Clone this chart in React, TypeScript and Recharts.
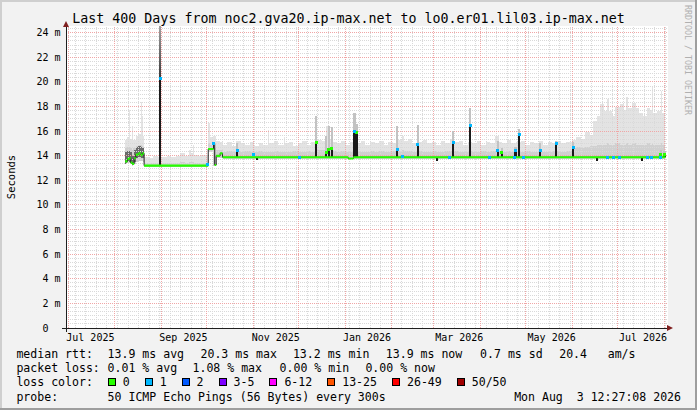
import React from "react";
import { Area, CartesianGrid, ComposedChart, Line, ReferenceLine, Scatter, XAxis, YAxis } from "recharts";

// x values are days since the start of the 400 day window (Jun 29 2025 12:27)
const xTickDays = [16.2, 78, 139.4, 200, 261.3, 322.7, 383.4];
const xTickLabels = ["Jul 2025", "Sep 2025", "Nov 2025", "Jan 2026", "Mar 2026", "May 2026", "Jul 2026"];
const monthStarts = [1.48, 32.48, 63.48, 93.48, 124.48, 154.48, 185.48, 216.48, 244.48, 275.48, 305.48, 336.48, 366.48, 397.48];
const yTicks = [0, 2, 4, 6, 8, 10, 12, 14, 16, 18, 20, 22, 24];

// median rtt (ms), step changes only
const medDays = [39.3, 40.8, 41.9, 43.0, 44.1, 45.3, 46.4, 48.1, 49.7, 50.8, 51.9, 94.5, 98.0, 98.8, 99.8, 102.4, 104.0, 187.5, 191.0, 398.3];
const medVals = [13.55, 13.75, 13.8, 13.45, 13.35, 13.8, 14.1, 14.2, 14.05, 14.2, 13.2, 14.55, 15.0, 13.25, 14.0, 14.2, 13.88, 13.78, 13.88, 13.88];

// smoke: lowest ping, dense part top, highest ping
const hazeDays = [
  39.3, 40.8, 41.9, 42.6, 44.1, 44.8, 46.4, 48.1, 49.7, 50.4, 51.0,
  51.9, 55, 58, 61, 64, 67, 70, 73, 76, 79, 82, 83.2, 84.2, 85, 88, 91,
  94.5, 96, 98, 99.8, 102.4,
  104, 107, 110, 113, 116, 119, 122, 125, 128, 131, 134.3, 135.2, 138, 141, 144.6, 145.5, 148, 151, 154, 157, 160, 163,
  167, 170, 173, 174.2, 176, 177, 180, 183, 186, 189, 193, 196, 199, 202, 205, 208, 211, 214, 217, 219.5, 220.6, 223, 224.5, 227, 230, 233, 234.3, 237, 240, 243,
  246, 249, 252, 255, 258, 261, 264, 267, 270, 273, 276, 279, 282, 285, 287.5, 290, 293, 296, 299, 302, 305, 308, 311, 314, 317, 320, 323, 326, 329, 332,
  336.5, 339, 342, 345, 348, 350, 352.5, 355, 357.5, 359.5, 360.5, 363, 365, 368, 370.5, 372.3, 373.5, 376, 378.5, 381, 383.5, 386, 388, 389.5, 390.3, 393, 395.5, 396.3, 398.3,
];
const hazeLo = [
  13.3, 13.4, 13.45, 13.3, 13.2, 13.3, 13.5, 13.6, 13.6, 13.6, 13.5,
  13.1, 13.1, 13.1, 13.1, 13.1, 13.1, 13.1, 13.1, 13.1, 13.1, 13.1, 13.1, 13.1, 13.1, 13.1, 13.1,
  14.3, 14.3, 13.2, 13.8, 13.8,
  13.75, 13.75, 13.75, 13.75, 13.75, 13.75, 13.75, 13.75, 13.75, 13.75, 13.75, 13.75, 13.75, 13.75, 13.75, 13.75, 13.75, 13.75, 13.75, 13.75, 13.75, 13.75,
  13.75, 13.75, 13.75, 13.75, 13.75, 13.75, 13.75, 13.75, 13.75, 13.75, 13.75, 13.75, 13.75, 13.75, 13.75, 13.75, 13.75, 13.75, 13.75, 13.75, 13.75, 13.75, 13.75, 13.75, 13.75, 13.75, 13.75, 13.75, 13.75, 13.75,
  13.75, 13.75, 13.75, 13.75, 13.75, 13.75, 13.75, 13.75, 13.75, 13.75, 13.75, 13.75, 13.75, 13.75, 13.75, 13.75, 13.75, 13.75, 13.75, 13.75, 13.75, 13.75, 13.75, 13.75, 13.75, 13.75, 13.75, 13.75, 13.75, 13.75,
  13.75, 13.75, 13.75, 13.75, 13.75, 13.75, 13.75, 13.75, 13.75, 13.75, 13.75, 13.75, 13.75, 13.75, 13.75, 13.75, 13.75, 13.75, 13.75, 13.75, 13.75, 13.75, 13.75, 13.75, 13.75, 13.75, 13.75, 13.75, 13.75,
];
const hazeMid = [
  14.6, 14.7, 14.7, 14.6, 14.5, 14.6, 14.8, 14.9, 14.9, 14.8, 14.7,
  13.45, 13.4, 13.45, 13.4, 13.4, 13.45, 13.4, 13.45, 13.5, 13.45, 13.5, 13.5, 13.5, 13.45, 13.45, 13.45,
  15.0, 14.9, 14.6, 14.5, 14.5,
  14.3, 14.35, 14.3, 14.4, 14.3, 14.35, 14.3, 14.3, 14.35, 14.3, 14.4, 14.3, 14.35, 14.3, 14.4, 14.3, 14.3, 14.35, 14.3, 14.3, 14.35, 14.3,
  14.5, 14.5, 14.6, 14.5, 14.6, 14.4, 14.3, 14.35, 14.3, 14.3, 14.35, 14.3, 14.3, 14.35, 14.3, 14.35, 14.3, 14.3, 14.4, 14.5, 14.4, 14.45, 14.4, 14.35, 14.3, 14.45, 14.35, 14.3, 14.3, 14.35,
  14.3, 14.3, 14.35, 14.4, 14.35, 14.3, 14.3, 14.35, 14.3, 14.3, 14.35, 14.3, 14.35, 14.4, 14.35, 14.3, 14.35, 14.3, 14.4, 14.3, 14.35, 14.3, 14.3, 14.35, 14.3, 14.3, 14.35, 14.4, 14.3, 14.35,
  14.6, 14.7, 14.6, 14.7, 14.8, 14.8, 14.9, 14.9, 14.9, 15.0, 14.9, 14.9, 15.0, 14.9, 14.9, 15.0, 14.9, 15.0, 14.9, 14.9, 14.9, 15.0, 14.9, 15.0, 14.9, 14.9, 15.0, 14.9, 14.9,
];
const hazeTop = [
  15.3, 15.5, 17.7, 15.4, 16.4, 15.3, 15.6, 15.8, 18.4, 17.2, 15.6,
  13.9, 13.8, 14.0, 13.9, 13.9, 14.0, 13.9, 14.0, 14.2, 14.0, 14.5, 14.2, 14.9, 14.1, 14.0, 14.1,
  16.7, 15.5, 15.6, 15.2, 15.1,
  14.9, 15.1, 14.8, 15.2, 15.0, 14.9, 15.1, 14.8, 15.0, 14.9, 16.1, 15.0, 15.2, 14.9, 15.5, 15.0, 15.1, 14.8, 15.0, 15.2, 14.9, 15.1,
  15.3, 15.2, 16.4, 15.3, 16.3, 15.1, 15.0, 15.2, 14.9, 15.1, 15.0, 15.2, 14.9, 15.1, 15.0, 15.2, 14.9, 15.1, 15.0, 16.4, 15.3, 15.6, 15.2, 15.4, 15.0, 16.5, 15.1, 15.3, 15.0, 15.1,
  14.9, 15.2, 15.0, 15.4, 15.1, 15.2, 14.9, 15.1, 15.0, 15.2, 14.9, 15.1, 15.0, 15.6, 15.1, 15.0, 15.3, 15.0, 15.1, 15.2, 14.9, 15.1, 15.0, 15.2, 14.9, 15.1, 15.0, 15.2, 15.0, 15.1,
  15.3, 15.5, 15.4, 15.9, 15.7, 16.8, 17.2, 18.2, 17.6, 18.6, 17.6, 17.2, 18.0, 18.2, 17.7, 18.8, 17.9, 18.3, 17.9, 17.5, 17.2, 17.9, 17.7, 19.6, 17.5, 17.6, 19.3, 17.5, 17.5,
];

// dense dark smoke of the first, noisy weeks
const denseDays = [39.3, 40.8, 42.6, 44.1, 45.3, 46.4, 48.1, 49.7, 50.8, 51.9];
const denseLo = [13.35, 13.5, 13.3, 13.25, 13.5, 13.8, 13.9, 13.8, 13.8, 13.8];
const denseHi = [14.3, 14.4, 14.3, 14.0, 14.5, 14.7, 14.8, 14.7, 14.6, 14.6];

// short excursions: median base, median peak, smoke top, loss class (-1 = none)
const spikeDays = [62.0, 113.0, 126.0, 165.6, 172.3, 174.0, 176.0, 191.0, 192.5, 219.5, 233.0, 246.0, 256.5, 268.0, 286.2, 289.0, 298.0, 300.3, 314.4, 325.0, 336.2, 352.3, 382.2, 394.5, 397.0];
const spikeBase = [13.2, 13.88, 13.88, 13.88, 13.88, 13.88, 13.88, 13.88, 13.88, 13.88, 13.88, 13.88, 13.88, 13.88, 13.88, 13.88, 13.88, 13.88, 13.88, 13.88, 13.88, 13.88, 13.88, 13.88, 13.88];
const spikeTop = [20.3, 14.4, 13.65, 15.05, 14.3, 14.5, 14.6, 16.0, 15.9, 14.5, 14.9, 13.55, 15.05, 16.5, 14.4, 14.3, 14.4, 15.7, 14.45, 15.0, 14.7, 13.6, 13.55, 14.1, 14.1];
const spikeTail = [24.55, 15.0, 13.65, 17.2, 15.6, 16.4, 16.3, 17.5, 16.6, 16.4, 16.5, 13.55, 16.0, 17.9, 15.2, 14.6, 14.7, 16.2, 15.0, 15.2, 15.1, 13.6, 13.55, 14.5, 14.4];
const spikeLoss = [1, 1, -1, 0, 0, 0, 0, 1, 0, 1, 1, -1, 1, 1, 1, 0, 1, 1, 1, 1, 1, -1, -1, 0, 0];

// single polls with 1 lost ping on the median line
const dotDays = [93.9, 98.3, 124.5, 155.0, 223.8, 254.5, 281.5, 297.7, 303.7, 360.0, 363.6, 367.5, 386.7, 389.0, 394.7];
const dotVals = [13.3, 15.0, 14.1, 13.88, 13.95, 13.88, 13.88, 13.88, 13.88, 13.88, 13.88, 13.88, 13.88, 13.88, 13.88];

const lossColors = ["#26ff00", "#00b8ff", "#0059ff", "#7e00ff", "#ff00ff", "#ff5500", "#ff0000", "#a10000"];
const lossLabels = ["0", "1", "2", "3-5", "6-12", "13-25", "26-49", "50/50"];

const rttTexts = ["13.9 ms avg", "20.3 ms max", "13.2 ms min", "13.9 ms now", "0.7 ms sd", "20.4", "am/s"];
const lossTexts = ["0.01 % avg", "1.08 % max", "0.00 % min", "0.00 % now"];

const W = 697;
const H = 410;
const FONT = '"DejaVu Sans Mono", monospace';
const SPIKE_W = 1.4;

const medRows = medDays.map((d, i) => ({ d, v: medVals[i] }));
// horizontal pieces only, so the vertical jumps stay dark like rrdtool draws them
const medFlat = medDays.slice(0, -1).flatMap((d, i) => [
  { d, v: medVals[i] },
  { d: medDays[i + 1], v: medVals[i] },
  { d: medDays[i + 1] + 0.001, v: null },
]);
const hazeRows = hazeDays.map((d, i) => ({ d, top: [hazeLo[i], hazeTop[i]], mid: [hazeLo[i], hazeMid[i]] }));
const denseRows = denseDays.map((d, i) => ({ d, r: [denseLo[i], denseHi[i]] }));
const spikeRows = spikeDays.flatMap((d, i) => {
  const core = [spikeBase[i], spikeTop[i]];
  const tail = [spikeTop[i], spikeTail[i]];
  return [
    { d, core, tail },
    { d: d + SPIKE_W, core, tail },
    { d: d + SPIKE_W + 0.01, core: null, tail: null },
  ];
});
const capRows = spikeDays.map((d, i) => ({ d: d + SPIKE_W / 2, v: spikeTop[i], loss: spikeLoss[i] }));
const greenCaps = capRows.filter((c) => c.loss === 0);
const blueCaps = [...capRows.filter((c) => c.loss === 1), ...dotDays.map((d, i) => ({ d, v: dotVals[i], loss: 1 }))];

const minorY = Array.from({ length: 74 }, (_, k) => k).filter((k) => k % 6 !== 0).map((k) => k / 3);
const majorY = yTicks.filter((v) => v > 0);
const weekLines = Array.from({ length: 57 }, (_, k) => 6.2 + k * 7);

const square = (color: string) => (p: any) => (
  <rect x={p.cx - 1.5} y={p.cy - 1.5} width={3} height={3} fill={color} shapeRendering="crispEdges" />
);

function XTick(p: any) {
  const i = xTickDays.indexOf(p.payload.value);
  return (
    <text x={p.x} y={p.y} dy={9.5} textAnchor="middle" dominantBaseline="central" fontFamily={FONT} fontSize={10} fill="#000">
      {xTickLabels[i]}
    </text>
  );
}

function YTick(p: any) {
  const v = p.payload.value;
  return (
    <text x={p.x - 5.5} y={p.y} textAnchor="end" dominantBaseline="central" fontFamily={FONT} fontSize={10} fill="#000">
      {v === 0 ? "0\u00a0\u00a0" : `${v} m`}
    </text>
  );
}

const legendRow = (top: number): React.CSSProperties => ({
  position: "absolute",
  top,
  left: 0,
  height: 14,
  lineHeight: "14px",
  fontSize: 11.55,
  whiteSpace: "pre",
});

const rttX = [107.6, 200.5, 292.9, 385.8, 480.1, 559.2, 607.7];
const lossX = [107.6, 192.5, 279.6, 365.4];
const GRID_Z = 150;
const SPIKE_Z = 200;

export default function App() {
  return (
    <div style={{ position: "absolute", left: 0, top: 0, width: W, height: H, background: "#f2f2f2", overflow: "hidden", fontFamily: FONT, color: "#000" }}>
      <style>{`.rr line { shape-rendering: crispEdges; } .rr .crisp path { shape-rendering: crispEdges; }`}</style>
      <ComposedChart className="rr" width={W} height={H} margin={{ top: 26, right: 29, bottom: 62, left: 7 }}>
        <defs>
          <linearGradient id="tailFill" gradientUnits="userSpaceOnUse" x1={0} y1={26} x2={0} y2={328}>
            <stop offset="0" stopColor="#a0a0a0" />
            <stop offset="0.17" stopColor="#3c3c3c" />
            <stop offset="0.19" stopColor="#c2c2c2" />
            <stop offset="1" stopColor="#c2c2c2" />
          </linearGradient>
        </defs>
        <CartesianGrid fill="#ffffff" stroke="none" />
        <XAxis
          type="number"
          dataKey="d"
          domain={[0, 400]}
          ticks={xTickDays}
          interval={0}
          allowDataOverflow
          height={20}
          tickSize={0}
          tickMargin={0}
          tickLine={false}
          axisLine={{ stroke: "#1f1f1f" }}
          tick={<XTick />}
        />
        <YAxis
          type="number"
          domain={[0, 24.55]}
          ticks={yTicks}
          interval={0}
          allowDataOverflow
          width={59}
          tickSize={0}
          tickMargin={0}
          tickLine={false}
          axisLine={{ stroke: "#1f1f1f" }}
          tick={<YTick />}
        />
        <Area className="crisp" data={hazeRows} dataKey="top" type="stepAfter" fill="#e3e3e3" fillOpacity={1} stroke="none" isAnimationActive={false} />
        <Area className="crisp" data={hazeRows} dataKey="mid" type="stepAfter" fill="#d0d0d0" fillOpacity={1} stroke="none" isAnimationActive={false} />
        <Area className="crisp" data={denseRows} dataKey="r" type="stepAfter" fill="#6a6a6a" fillOpacity={1} stroke="none" isAnimationActive={false} />
        {minorY.map((v) => (
          <ReferenceLine key={"my" + v} y={v} stroke="#d9d9d9" strokeDasharray="1 1" zIndex={GRID_Z} />
        ))}
        {weekLines.map((d) => (
          <ReferenceLine key={"wx" + d} x={d} stroke="#d9d9d9" strokeDasharray="1 1" zIndex={GRID_Z} />
        ))}
        {majorY.map((v) => (
          <ReferenceLine key={"My" + v} y={v} stroke="#f0a6a6" strokeDasharray="1 1" zIndex={GRID_Z} />
        ))}
        {monthStarts.map((d) => (
          <ReferenceLine key={"Mx" + d} x={d} stroke="#f0a6a6" strokeDasharray="1 1" zIndex={GRID_Z} />
        ))}
        <Area className="crisp" data={spikeRows} dataKey="tail" type="linear" fill="url(#tailFill)" fillOpacity={1} stroke="none" zIndex={SPIKE_Z} isAnimationActive={false} />
        <Area className="crisp" data={spikeRows} dataKey="core" type="linear" fill="#1a1a1a" fillOpacity={1} stroke="none" zIndex={SPIKE_Z} isAnimationActive={false} />
        <Line data={medRows} dataKey="v" type="stepAfter" stroke="#222" strokeWidth={1} dot={false} isAnimationActive={false} />
        <Line data={medFlat} dataKey="v" type="linear" stroke="#26ff00" strokeWidth={2.2} dot={false} isAnimationActive={false} />
        <Scatter data={greenCaps} dataKey="v" shape={square("#26ff00")} isAnimationActive={false} />
        <Scatter data={blueCaps} dataKey="v" shape={square("#00b8ff")} isAnimationActive={false} />
      </ComposedChart>

      <svg width={W} height={H} style={{ position: "absolute", left: 0, top: 0, pointerEvents: "none" }}>
        <line x1={62} y1={328} x2={66} y2={328} stroke="#1f1f1f" shapeRendering="crispEdges" />
        <line x1={66} y1={328} x2={66} y2={332} stroke="#1f1f1f" shapeRendering="crispEdges" />
        <polygon points="667,325 673,328 667,331" fill="#801f1f" />
        <polygon points="63,27 66,21 69,27" fill="#801f1f" />
        <text x={10.5} y={177} transform="rotate(-90 10.5 177)" textAnchor="middle" dominantBaseline="central" fontFamily={FONT} fontSize={10.5} fill="#000">
          Seconds
        </text>
        <text x={687.5} y={60} transform="rotate(90 687.5 60)" textAnchor="middle" dominantBaseline="central" fontFamily={FONT} fontSize={8.3} fill="#b0b0b0">
          RRDTOOL / TOBI OETIKER
        </text>
      </svg>

      <div style={{ position: "absolute", top: 10.5, left: 0, width: W, textAlign: "center", fontSize: 13.3, lineHeight: "16px", whiteSpace: "pre" }}>
        Last 400 Days from noc2.gva20.ip-max.net to lo0.er01.lil03.ip-max.net
      </div>

      <div style={legendRow(347)}>
        <span style={{ position: "absolute", left: 16.4 }}>median rtt:</span>
        {rttTexts.map((t, i) => (
          <span key={t + i} style={{ position: "absolute", left: rttX[i] }}>{t}</span>
        ))}
      </div>
      <div style={legendRow(361.2)}>
        <span style={{ position: "absolute", left: 16.4 }}>packet loss:</span>
        {lossTexts.map((t, i) => (
          <span key={t + i} style={{ position: "absolute", left: lossX[i] }}>{t}</span>
        ))}
      </div>
      <div style={legendRow(375.3)}>
        <span style={{ position: "absolute", left: 16.4 }}>loss color:</span>
        <div style={{ position: "absolute", left: 107.7, top: 0, display: "flex", alignItems: "center", height: 14 }}>
          {lossLabels.map((l, i) => (
            <React.Fragment key={l}>
              <span style={{ display: "inline-block", boxSizing: "border-box", width: 8, height: 8, background: lossColors[i], border: "1px solid #000", marginRight: 7, marginTop: -1 }} />
              <span style={{ marginRight: 15 }}>{l}</span>
            </React.Fragment>
          ))}
        </div>
      </div>
      <div style={legendRow(389.5)}>
        <span style={{ position: "absolute", left: 16.4 }}>probe:</span>
        <span style={{ position: "absolute", left: 107.6 }}>50 ICMP Echo Pings (56 Bytes) every 300s</span>
        <span style={{ position: "absolute", left: 514, width: 167, textAlign: "right" }}>Mon Aug  3 12:27:08 2026</span>
      </div>

      <div style={{ position: "absolute", left: 0, top: 0, width: W, height: 2, background: "#cfcfcf" }} />
      <div style={{ position: "absolute", left: 0, top: 0, width: 2, height: H, background: "#cfcfcf" }} />
      <div style={{ position: "absolute", left: 0, top: H - 2, width: W, height: 2, background: "#9e9e9e" }} />
      <div style={{ position: "absolute", left: W - 2, top: 0, width: 2, height: H, background: "#9e9e9e" }} />
    </div>
  );
}
